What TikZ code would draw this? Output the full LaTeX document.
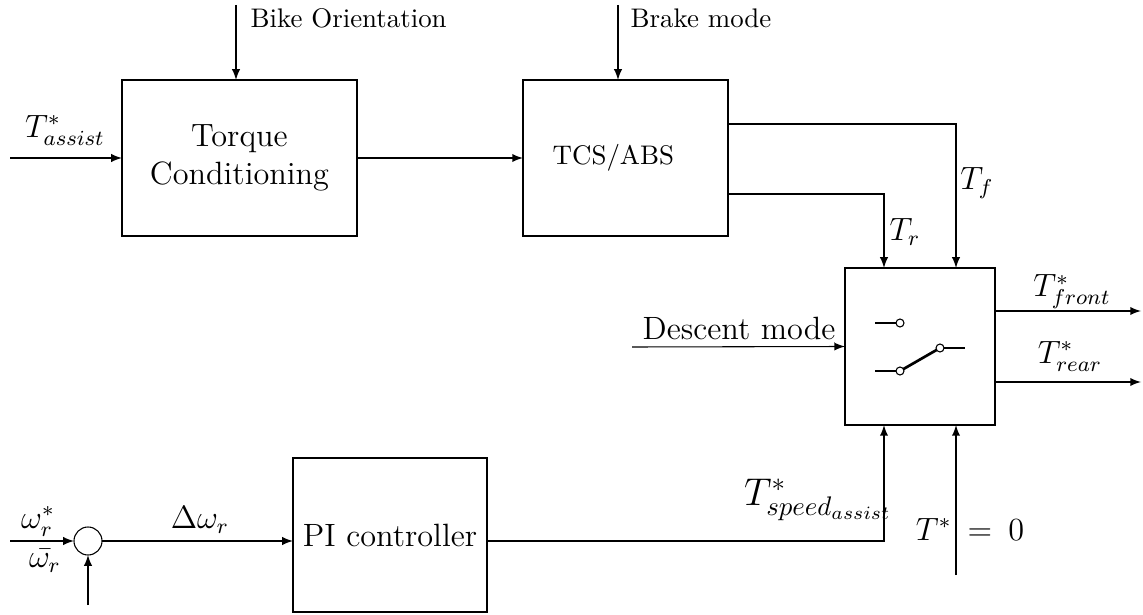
\documentclass[tikz,border=0pt]{standalone}
\usetikzlibrary{calc}
\begin{document}
\begin{tikzpicture}[x=0.372pt,y=-0.372pt,
  blk/.style={draw,line width=0.4pt,inner sep=0pt,outer sep=0pt,align=center,font=\large},
  conn/.style={line width=0.4pt,-latex},
  wire/.style={line width=0.4pt},
  lbl/.style={font=\large,inner sep=0pt},
  toplbl/.style={font=\normalsize,inner sep=0pt,anchor=west}]
\useasboundingbox (0,0) rectangle (1143,615);
% blocks
\node[blk,minimum width=87.42pt,minimum height=58.03pt] (tc) at (239.5,158) {Torque\\Conditioning};
\node[blk,minimum width=76.26pt,minimum height=58.03pt,font=\normalsize] (tcs) at (625.5,158) {\hspace*{-9pt}TCS/ABS};
\node[blk,minimum width=55.8pt,minimum height=58.4pt] (sw) at (920,346.5) {};
\node[blk,minimum width=72.17pt,minimum height=57.29pt] (pi) at (390,535) {PI controller};
\node[draw,line width=0.4pt,circle,minimum size=10.42pt,inner sep=0pt,outer sep=0pt] (sum) at (88,541) {};
% free ends
\coordinate (in1) at (10,158);
\coordinate (bo) at (236,5);
\coordinate (bm) at (618,5);
\coordinate (dm) at (632,347);
\coordinate (of) at (1141,311);
\coordinate (orr) at (1141,382);
\coordinate (w1) at (10,541);
\coordinate (w2) at (88,605);
\coordinate (tz) at (956,575);
% connectors
\draw[conn] (in1) -- (tc.west);
\draw[conn] (bo) -- (bo |- tc.north);
\draw[conn] (tc.east) -- (tcs.west);
\draw[conn] (bm) -- (bm |- tcs.north);
\draw[conn] (tcs.east |- 0,124) -| (956,0 |- sw.north);
\draw[conn] (tcs.east |- 0,194) -| (884,0 |- sw.north);
\draw[conn] (dm) -- (sw.west);
\draw[conn] (sw.east |- of) -- (of);
\draw[conn] (sw.east |- orr) -- (orr);
\draw[conn] (w1) -- (sum.west);
\draw[conn] (w2) -- (sum.south);
\draw[conn] (sum.east) -- (pi.west |- sum.east);
\draw[conn] (pi.east |- 0,541) -| (884,0 |- sw.south);
\draw[conn] (tz) -- (tz |- sw.south);
% labels
\node[lbl] (l1) at (65,130) {$T^{*}_{assist}$};
\node[toplbl] (l2) at (250,18) {Bike Orientation};
\node[toplbl] (l3) at (630,18) {Brake mode};
\node[lbl] (l4) at (977,183) {$T_f$};
\node[lbl] (l5) at (905,232) {$T_r$};
\node[lbl] (l6) at (1072,292) {$T^{*}_{front}$};
\node[lbl] (l7) at (1070,356) {$T^{*}_{rear}$};
\node[lbl] (l8) at (739,328) {Descent mode};
\node[lbl,font=\Large] (l9) at (818,500) {$T^{*}_{speed_{assist}}$};
\node[lbl] (l10) at (970,530) {$T^{*}$\hspace{6pt}=\hspace{6pt}0};
\node[lbl,anchor=south] (l11) at (38,537) {$\omega^{*}_{r}$};
\node[lbl,anchor=north] (l12) at (45,549) {$\bar{\omega_r}$};
\node[lbl] (l13) at (200,520) {$\Delta\omega_r$};
% switch symbol
\draw[wire] (875,323) -- (896,323);
\draw[wire] (900,323) circle[radius=4];
\draw[wire] (875,371) -- (896,371);
\draw[wire] (900,371) circle[radius=4];
\draw[line width=1pt] (903.5,369) -- (936.5,350);
\draw[wire] (940,348) circle[radius=4];
\draw[wire] (944,348) -- (965,348);
\end{tikzpicture}
\end{document}
